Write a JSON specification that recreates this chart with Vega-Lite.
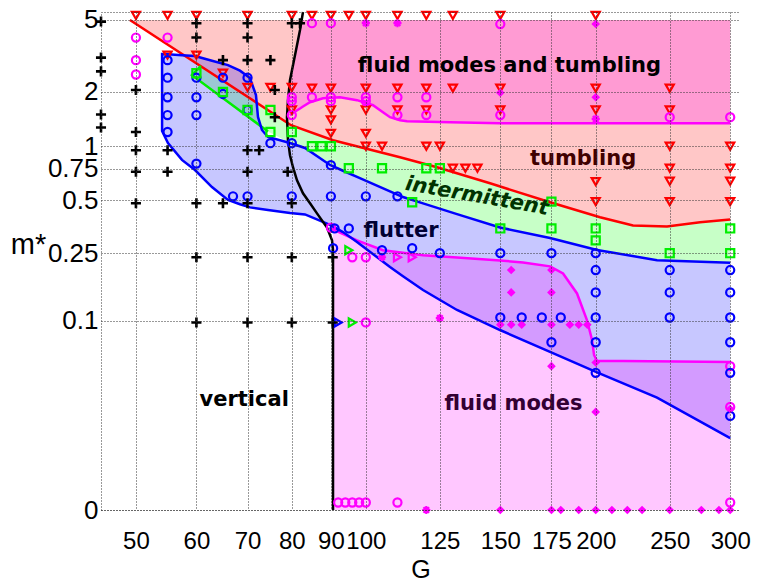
{
"$schema":"https://vega.github.io/schema/vega-lite/v6.json",
"width":639,"height":498,"autosize":"none",
"padding":{"left":101,"top":12,"right":17,"bottom":72},
"background":"white",
"config":{"view":{"stroke":null}},
"datasets":{
"regions":[
{"region":"tumbling","G":49.1,"m":5,"m2":5},{"region":"tumbling","G":79.8,"m":5,"m2":1.309},{"region":"tumbling","G":90.58,"m":5,"m2":1.08},{"region":"tumbling","G":110.86,"m":5,"m2":0.869},{"region":"tumbling","G":123.94,"m":5,"m2":0.764},{"region":"tumbling","G":145.42,"m":5,"m2":0.621},{"region":"tumbling","G":174.26,"m":5,"m2":0.486},{"region":"tumbling","G":202.62,"m":5,"m2":0.4},{"region":"tumbling","G":223.82,"m":5,"m2":0.36},{"region":"tumbling","G":247.99,"m":5,"m2":0.355},{"region":"tumbling","G":273.95,"m":5,"m2":0.375},{"region":"tumbling","G":300,"m":5,"m2":0.389},
{"region":"fluidTumbling","G":78.84,"m":1.45,"m2":1.45},{"region":"fluidTumbling","G":79.08,"m":1.802,"m2":1.468},{"region":"fluidTumbling","G":79.56,"m":2.323,"m2":1.487},{"region":"fluidTumbling","G":81.01,"m":3.406,"m2":1.569},{"region":"fluidTumbling","G":82.0,"m":4.404,"m2":1.62},{"region":"fluidTumbling","G":82.74,"m":5,"m2":1.661},{"region":"fluidTumbling","G":84.51,"m":5,"m2":1.756},{"region":"fluidTumbling","G":87.89,"m":5,"m2":1.848},{"region":"fluidTumbling","G":92.51,"m":5,"m2":1.872},{"region":"fluidTumbling","G":97.38,"m":5,"m2":1.802},{"region":"fluidTumbling","G":102.19,"m":5,"m2":1.689},{"region":"fluidTumbling","G":105.3,"m":5,"m2":1.545},{"region":"fluidTumbling","G":107.56,"m":5,"m2":1.45},{"region":"fluidTumbling","G":110.86,"m":5,"m2":1.395},{"region":"fluidTumbling","G":113.22,"m":5,"m2":1.377},{"region":"fluidTumbling","G":128.9,"m":5,"m2":1.36},{"region":"fluidTumbling","G":149.87,"m":5,"m2":1.343},{"region":"fluidTumbling","G":300,"m":5,"m2":1.343},
{"region":"intermittent","G":59.2,"m":2.478,"m2":2.478},{"region":"intermittent","G":61.01,"m":2.742,"m2":2.255},{"region":"intermittent","G":66.39,"m":2.181,"m2":1.705},{"region":"intermittent","G":74.45,"m":1.586,"m2":1.207},{"region":"intermittent","G":79.56,"m":1.309,"m2":1.042},{"region":"intermittent","G":83.24,"m":1.227,"m2":0.978},{"region":"intermittent","G":89.76,"m":1.096,"m2":0.786},{"region":"intermittent","G":97.38,"m":1.002,"m2":0.675},{"region":"intermittent","G":110.86,"m":0.869,"m2":0.529},{"region":"intermittent","G":123.94,"m":0.764,"m2":0.452},{"region":"intermittent","G":145.42,"m":0.621,"m2":0.363},{"region":"intermittent","G":174.26,"m":0.486,"m2":0.305},{"region":"intermittent","G":200.8,"m":0.407,"m2":0.261},{"region":"intermittent","G":223.82,"m":0.36,"m2":0.241},{"region":"intermittent","G":247.99,"m":0.355,"m2":0.227},{"region":"intermittent","G":273.95,"m":0.375,"m2":0.223},{"region":"intermittent","G":300,"m":0.389,"m2":0.22},
{"region":"flutter","G":54.1,"m":3.245,"m2":1.216},{"region":"flutter","G":55.07,"m":3.233,"m2":1.042},{"region":"flutter","G":57.44,"m":3.196,"m2":0.839},{"region":"flutter","G":59.74,"m":3.163,"m2":0.737},{"region":"flutter","G":62.88,"m":2.98,"m2":0.592},{"region":"flutter","G":65.99,"m":2.817,"m2":0.501},{"region":"flutter","G":68.42,"m":2.623,"m2":0.474},{"region":"flutter","G":70.51,"m":2.39,"m2":0.455},{"region":"flutter","G":71.8,"m":1.924,"m2":0.451},{"region":"flutter","G":72.24,"m":1.454,"m2":0.449},{"region":"flutter","G":73.11,"m":1.231,"m2":0.445},{"region":"flutter","G":74.45,"m":1.126,"m2":0.44},{"region":"flutter","G":79.56,"m":1.042,"m2":0.423},{"region":"flutter","G":83.24,"m":0.978,"m2":0.415},{"region":"flutter","G":89.76,"m":0.786,"m2":0.362},{"region":"flutter","G":93.35,"m":0.73,"m2":0.33},{"region":"flutter","G":97.38,"m":0.675,"m2":0.29},{"region":"flutter","G":107.56,"m":0.56,"m2":0.208},{"region":"flutter","G":111.86,"m":0.52,"m2":0.184},{"region":"flutter","G":118.82,"m":0.479,"m2":0.153},{"region":"flutter","G":131.64,"m":0.417,"m2":0.1165},{"region":"flutter","G":149.87,"m":0.35,"m2":0.0881},{"region":"flutter","G":174.26,"m":0.305,"m2":0.0643},{"region":"flutter","G":200.8,"m":0.261,"m2":0.0473},{"region":"flutter","G":240.62,"m":0.228,"m2":0.0316},{"region":"flutter","G":300,"m":0.22,"m2":0.0149},
{"region":"fluid","G":90.58,"m":0.346,"m2":0},{"region":"fluid","G":92.51,"m":0.328,"m2":0},{"region":"fluid","G":97.38,"m":0.296,"m2":0},{"region":"fluid","G":105.3,"m":0.26,"m2":0},{"region":"fluid","G":118.82,"m":0.243,"m2":0},{"region":"fluid","G":131.64,"m":0.2365,"m2":0},{"region":"fluid","G":149.87,"m":0.227,"m2":0},{"region":"fluid","G":160.63,"m":0.221,"m2":0},{"region":"fluid","G":174.26,"m":0.21,"m2":0},{"region":"fluid","G":181.23,"m":0.191,"m2":0},{"region":"fluid","G":189.04,"m":0.146,"m2":0},{"region":"fluid","G":194.83,"m":0.101,"m2":0},{"region":"fluid","G":197.79,"m":0.0765,"m2":0},{"region":"fluid","G":199.0,"m":0.0615,"m2":0},{"region":"fluid","G":200.8,"m":0.0562,"m2":0},{"region":"fluid","G":217.17,"m":0.0562,"m2":0},{"region":"fluid","G":300,"m":0.0554,"m2":0}
],
"curves":[
{"curve":"tumbling","o":1,"G":49.1,"m":5},{"curve":"tumbling","o":2,"G":79.8,"m":1.309},{"curve":"tumbling","o":3,"G":90.58,"m":1.08},{"curve":"tumbling","o":4,"G":110.86,"m":0.869},{"curve":"tumbling","o":5,"G":123.94,"m":0.764},{"curve":"tumbling","o":6,"G":145.42,"m":0.621},{"curve":"tumbling","o":7,"G":174.26,"m":0.486},{"curve":"tumbling","o":8,"G":202.62,"m":0.4},{"curve":"tumbling","o":9,"G":223.82,"m":0.36},{"curve":"tumbling","o":10,"G":247.99,"m":0.355},{"curve":"tumbling","o":11,"G":273.95,"m":0.375},{"curve":"tumbling","o":12,"G":300,"m":0.389},
{"curve":"fluidUpper","o":1,"G":79.56,"m":1.487},{"curve":"fluidUpper","o":2,"G":81.01,"m":1.569},{"curve":"fluidUpper","o":3,"G":82.0,"m":1.62},{"curve":"fluidUpper","o":4,"G":82.74,"m":1.661},{"curve":"fluidUpper","o":5,"G":84.51,"m":1.756},{"curve":"fluidUpper","o":6,"G":87.89,"m":1.848},{"curve":"fluidUpper","o":7,"G":92.51,"m":1.872},{"curve":"fluidUpper","o":8,"G":97.38,"m":1.802},{"curve":"fluidUpper","o":9,"G":102.19,"m":1.689},{"curve":"fluidUpper","o":10,"G":105.3,"m":1.545},{"curve":"fluidUpper","o":11,"G":107.56,"m":1.45},{"curve":"fluidUpper","o":12,"G":110.86,"m":1.395},{"curve":"fluidUpper","o":13,"G":113.22,"m":1.377},{"curve":"fluidUpper","o":14,"G":128.9,"m":1.36},{"curve":"fluidUpper","o":15,"G":149.87,"m":1.343},{"curve":"fluidUpper","o":16,"G":300,"m":1.343},
{"curve":"fluidLower","o":1,"G":89.76,"m":0.35},{"curve":"fluidLower","o":2,"G":92.51,"m":0.328},{"curve":"fluidLower","o":3,"G":97.38,"m":0.296},{"curve":"fluidLower","o":4,"G":105.3,"m":0.26},{"curve":"fluidLower","o":5,"G":118.82,"m":0.243},{"curve":"fluidLower","o":6,"G":131.64,"m":0.2365},{"curve":"fluidLower","o":7,"G":149.87,"m":0.227},{"curve":"fluidLower","o":8,"G":160.63,"m":0.221},{"curve":"fluidLower","o":9,"G":174.26,"m":0.21},{"curve":"fluidLower","o":10,"G":181.23,"m":0.191},{"curve":"fluidLower","o":11,"G":189.04,"m":0.146},{"curve":"fluidLower","o":12,"G":194.83,"m":0.101},{"curve":"fluidLower","o":13,"G":197.79,"m":0.0765},{"curve":"fluidLower","o":14,"G":199.0,"m":0.0615},{"curve":"fluidLower","o":15,"G":200.8,"m":0.0562},{"curve":"fluidLower","o":16,"G":217.17,"m":0.0562},{"curve":"fluidLower","o":17,"G":300,"m":0.0554},
{"curve":"intermittent","o":1,"G":60.82,"m":2.785},{"curve":"intermittent","o":2,"G":59.2,"m":2.478},{"curve":"intermittent","o":3,"G":74.45,"m":1.207},
{"curve":"flutter","o":1,"G":300,"m":0.0149},{"curve":"flutter","o":2,"G":240.62,"m":0.0316},{"curve":"flutter","o":3,"G":200.8,"m":0.0473},{"curve":"flutter","o":4,"G":174.26,"m":0.0643},{"curve":"flutter","o":5,"G":149.87,"m":0.0881},{"curve":"flutter","o":6,"G":131.64,"m":0.1165},{"curve":"flutter","o":7,"G":118.82,"m":0.153},{"curve":"flutter","o":8,"G":111.86,"m":0.184},{"curve":"flutter","o":9,"G":107.56,"m":0.208},{"curve":"flutter","o":10,"G":97.38,"m":0.29},{"curve":"flutter","o":11,"G":93.35,"m":0.33},{"curve":"flutter","o":12,"G":89.76,"m":0.362},{"curve":"flutter","o":13,"G":83.24,"m":0.415},{"curve":"flutter","o":14,"G":79.56,"m":0.423},{"curve":"flutter","o":15,"G":74.45,"m":0.44},{"curve":"flutter","o":16,"G":70.51,"m":0.455},{"curve":"flutter","o":17,"G":68.42,"m":0.474},{"curve":"flutter","o":18,"G":65.99,"m":0.501},{"curve":"flutter","o":19,"G":62.88,"m":0.592},{"curve":"flutter","o":20,"G":59.74,"m":0.737},{"curve":"flutter","o":21,"G":57.44,"m":0.839},{"curve":"flutter","o":22,"G":55.07,"m":1.042},{"curve":"flutter","o":23,"G":54.1,"m":1.216},{"curve":"flutter","o":24,"G":54.1,"m":3.245},{"curve":"flutter","o":25,"G":55.07,"m":3.233},{"curve":"flutter","o":26,"G":57.44,"m":3.196},{"curve":"flutter","o":27,"G":59.74,"m":3.163},{"curve":"flutter","o":28,"G":62.88,"m":2.98},{"curve":"flutter","o":29,"G":65.99,"m":2.817},{"curve":"flutter","o":30,"G":68.42,"m":2.623},{"curve":"flutter","o":31,"G":70.51,"m":2.39},{"curve":"flutter","o":32,"G":71.8,"m":1.924},{"curve":"flutter","o":33,"G":72.24,"m":1.454},{"curve":"flutter","o":34,"G":73.11,"m":1.231},{"curve":"flutter","o":35,"G":74.45,"m":1.126},{"curve":"flutter","o":36,"G":79.56,"m":1.042},{"curve":"flutter","o":37,"G":83.24,"m":0.978},{"curve":"flutter","o":38,"G":89.76,"m":0.786},{"curve":"flutter","o":39,"G":93.35,"m":0.73},{"curve":"flutter","o":40,"G":97.38,"m":0.675},{"curve":"flutter","o":41,"G":107.56,"m":0.56},{"curve":"flutter","o":42,"G":111.86,"m":0.52},{"curve":"flutter","o":43,"G":118.82,"m":0.479},{"curve":"flutter","o":44,"G":131.64,"m":0.417},{"curve":"flutter","o":45,"G":149.87,"m":0.35},{"curve":"flutter","o":46,"G":174.26,"m":0.305},{"curve":"flutter","o":47,"G":200.8,"m":0.261},{"curve":"flutter","o":48,"G":240.62,"m":0.228},{"curve":"flutter","o":49,"G":300,"m":0.22},
{"curve":"vertical","o":1,"G":82.74,"m":5.535},{"curve":"vertical","o":2,"G":82.0,"m":4.404},{"curve":"vertical","o":3,"G":81.01,"m":3.406},{"curve":"vertical","o":4,"G":79.56,"m":2.323},{"curve":"vertical","o":5,"G":79.08,"m":1.802},{"curve":"vertical","o":6,"G":78.84,"m":1.45},{"curve":"vertical","o":7,"G":79.08,"m":1.08},{"curve":"vertical","o":8,"G":79.56,"m":0.891},{"curve":"vertical","o":9,"G":80.28,"m":0.764},{"curve":"vertical","o":10,"G":81.26,"m":0.646},{"curve":"vertical","o":11,"G":82.74,"m":0.546},{"curve":"vertical","o":12,"G":84.51,"m":0.48},{"curve":"vertical","o":13,"G":86.31,"m":0.421},{"curve":"vertical","o":14,"G":88.95,"m":0.35},{"curve":"vertical","o":15,"G":90.31,"m":0.296},{"curve":"vertical","o":16,"G":90.58,"m":0.26},{"curve":"vertical","o":17,"G":90.58,"m":0}
],
"points":[
{"kind":"cross","G":45,"m":4.9},{"kind":"cross","G":60,"m":4.8},{"kind":"cross","G":70,"m":4.8},{"kind":"cross","G":80,"m":4.8},{"kind":"cross","G":82,"m":4.8},
{"kind":"cross","G":60,"m":4.0},{"kind":"cross","G":70,"m":4.0},
{"kind":"cross","G":45,"m":3.1},{"kind":"cross","G":65,"m":3.0},{"kind":"cross","G":70,"m":3.0},{"kind":"cross","G":75,"m":3.0},
{"kind":"cross","G":45,"m":2.6},{"kind":"cross","G":50,"m":2.05},{"kind":"cross","G":76,"m":2.05},
{"kind":"cross","G":45,"m":1.5},{"kind":"cross","G":76,"m":1.45},
{"kind":"cross","G":45,"m":1.27},{"kind":"cross","G":50,"m":1.2},
{"kind":"cross","G":50,"m":0.95},{"kind":"cross","G":55,"m":0.95},{"kind":"cross","G":70,"m":0.95},{"kind":"cross","G":72.5,"m":0.95},
{"kind":"cross","G":50,"m":0.72},{"kind":"cross","G":55,"m":0.72},{"kind":"cross","G":70,"m":0.72},{"kind":"cross","G":79,"m":0.72},
{"kind":"cross","G":50,"m":0.48},{"kind":"cross","G":60,"m":0.48},{"kind":"cross","G":65,"m":0.48},{"kind":"cross","G":70,"m":0.48},{"kind":"cross","G":80,"m":0.48},
{"kind":"cross","G":60,"m":0.237},{"kind":"cross","G":70,"m":0.237},{"kind":"cross","G":80,"m":0.237},{"kind":"cross","G":90.5,"m":0.237},
{"kind":"cross","G":60,"m":0.098},{"kind":"cross","G":70,"m":0.098},{"kind":"cross","G":80,"m":0.098},{"kind":"cross","G":90.5,"m":0.098},
{"kind":"tri","G":50,"m":5.3},{"kind":"tri","G":55,"m":5.3},{"kind":"tri","G":60,"m":5.3},{"kind":"tri","G":70,"m":5.3},{"kind":"tri","G":80,"m":5.3},{"kind":"tri","G":85,"m":5.3},{"kind":"tri","G":90,"m":5.3},{"kind":"tri","G":95,"m":5.3},{"kind":"tri","G":100,"m":5.3},{"kind":"tri","G":110,"m":5.3},{"kind":"tri","G":120,"m":5.3},{"kind":"tri","G":130,"m":5.3},{"kind":"tri","G":150,"m":5.3},{"kind":"tri","G":200,"m":5.3},
{"kind":"tri","G":55,"m":3.2},{"kind":"tri","G":60,"m":3.2},{"kind":"tri","G":65,"m":2.54},{"kind":"tri","G":70,"m":2.12},{"kind":"tri","G":75,"m":2.12},{"kind":"tri","G":80,"m":2.12},
{"kind":"tri","G":85,"m":2.1},{"kind":"tri","G":90,"m":2.1},{"kind":"tri","G":100,"m":2.1},{"kind":"tri","G":110,"m":2.1},{"kind":"tri","G":120,"m":2.1},{"kind":"tri","G":130,"m":2.1},{"kind":"tri","G":150,"m":2.1},{"kind":"tri","G":200,"m":2.1},{"kind":"tri","G":250,"m":2.1},
{"kind":"tri","G":80,"m":1.59},{"kind":"tri","G":90,"m":1.59},{"kind":"tri","G":100,"m":1.59},{"kind":"tri","G":110,"m":1.59},{"kind":"tri","G":120,"m":1.59},{"kind":"tri","G":150,"m":1.59},{"kind":"tri","G":200,"m":1.59},{"kind":"tri","G":250,"m":1.59},
{"kind":"tri","G":90,"m":1.4},{"kind":"tri","G":90,"m":1.18},{"kind":"tri","G":100,"m":1.18},
{"kind":"tri","G":100,"m":1.0},{"kind":"tri","G":105,"m":1.0},{"kind":"tri","G":120,"m":1.0},{"kind":"tri","G":125,"m":1.0},{"kind":"tri","G":250,"m":1.0},{"kind":"tri","G":300,"m":1.0},
{"kind":"tri","G":130,"m":0.754},{"kind":"tri","G":135,"m":0.754},{"kind":"tri","G":140,"m":0.754},{"kind":"tri","G":250,"m":0.754},{"kind":"tri","G":300,"m":0.754},
{"kind":"tri","G":200,"m":0.635},{"kind":"tri","G":250,"m":0.638},{"kind":"tri","G":300,"m":0.638},
{"kind":"tri","G":200,"m":0.49},{"kind":"tri","G":250,"m":0.49},{"kind":"tri","G":300,"m":0.49},
{"kind":"circM","G":50,"m":4.0},{"kind":"circM","G":55,"m":4.0},{"kind":"circM","G":50,"m":3.0},{"kind":"circM","G":50,"m":2.5},{"kind":"circM","G":85,"m":4.8},{"kind":"circM","G":90,"m":4.8},{"kind":"circM","G":150,"m":4.75},
{"kind":"circM","G":80,"m":1.87},{"kind":"circM","G":85,"m":1.87},{"kind":"circM","G":90,"m":1.87},{"kind":"circM","G":100,"m":1.87},{"kind":"circM","G":110,"m":1.87},{"kind":"circM","G":120,"m":1.87},
{"kind":"circM","G":80,"m":1.78},{"kind":"circM","G":90,"m":1.78},{"kind":"circM","G":100,"m":1.78},
{"kind":"circM","G":80,"m":1.49},{"kind":"circM","G":110,"m":1.49},{"kind":"circM","G":120,"m":1.49},{"kind":"circM","G":150,"m":1.49},{"kind":"circM","G":250,"m":1.45},{"kind":"circM","G":300,"m":1.45},
{"kind":"circM","G":90,"m":0.35},{"kind":"circM","G":96,"m":0.237},{"kind":"circM","G":100,"m":0.237},{"kind":"circM","G":100,"m":0.098},{"kind":"circM","G":300,"m":0.052},{"kind":"circM","G":300,"m":0.027},
{"kind":"circM","G":92,"m":0.001},{"kind":"circM","G":94,"m":0.001},{"kind":"circM","G":96,"m":0.001},{"kind":"circM","G":98,"m":0.001},{"kind":"circM","G":100,"m":0.001},{"kind":"circM","G":110,"m":0.001},{"kind":"circM","G":300,"m":0.001},
{"kind":"ast","G":100,"m":4.8},{"kind":"ast","G":110,"m":4.8},{"kind":"ast","G":200,"m":1.42},{"kind":"ast","G":105,"m":0.237},{"kind":"ast","G":125,"m":0.104},{"kind":"ast","G":120,"m":0},
{"kind":"rtriM","G":110,"m":0.237},{"kind":"rtriM","G":115,"m":0.237},
{"kind":"rtriG","G":95,"m":0.26},{"kind":"rtriG","G":96,"m":0.098},
{"kind":"rtriB","G":92,"m":0.098},
{"kind":"circB","G":55,"m":3.0},{"kind":"circB","G":55,"m":2.4},{"kind":"circB","G":60,"m":2.4},{"kind":"circB","G":65,"m":2.4},{"kind":"circB","G":70,"m":2.4},{"kind":"circB","G":55,"m":1.87},{"kind":"circB","G":60,"m":1.87},{"kind":"circB","G":65,"m":1.95},{"kind":"circB","G":55,"m":1.49},{"kind":"circB","G":60,"m":1.49},{"kind":"circB","G":70,"m":1.59},{"kind":"circB","G":55,"m":1.2},{"kind":"circB","G":75,"m":1.04},{"kind":"circB","G":80,"m":1.04},{"kind":"circB","G":60,"m":0.8},{"kind":"circB","G":67,"m":0.525},{"kind":"circB","G":70,"m":0.525},{"kind":"circB","G":80,"m":0.525},{"kind":"circB","G":90,"m":0.784},{"kind":"circB","G":90,"m":0.525},{"kind":"circB","G":100,"m":0.525},{"kind":"circB","G":110,"m":0.525},{"kind":"circB","G":91,"m":0.346},{"kind":"circB","G":95,"m":0.346},{"kind":"circB","G":90.6,"m":0.267},{"kind":"circB","G":105,"m":0.26},{"kind":"circB","G":115,"m":0.267},{"kind":"circB","G":125,"m":0.25},{"kind":"circB","G":150,"m":0.25},{"kind":"circB","G":175,"m":0.25},{"kind":"circB","G":200,"m":0.25},{"kind":"circB","G":200,"m":0.2},{"kind":"circB","G":250,"m":0.2},{"kind":"circB","G":300,"m":0.2},{"kind":"circB","G":200,"m":0.148},{"kind":"circB","G":250,"m":0.148},{"kind":"circB","G":300,"m":0.148},{"kind":"circB","G":150,"m":0.105},{"kind":"circB","G":160,"m":0.105},{"kind":"circB","G":170,"m":0.105},{"kind":"circB","G":180,"m":0.105},{"kind":"circB","G":200,"m":0.105},{"kind":"circB","G":250,"m":0.105},{"kind":"circB","G":300,"m":0.105},{"kind":"circB","G":175,"m":0.074},{"kind":"circB","G":200,"m":0.074},{"kind":"circB","G":300,"m":0.074},{"kind":"circB","G":200,"m":0.047},{"kind":"circB","G":300,"m":0.047},{"kind":"circB","G":300,"m":0.023},
{"kind":"sq","G":60,"m":2.54},{"kind":"sq","G":65,"m":2.0},{"kind":"sq","G":70,"m":1.59},{"kind":"sq","G":75,"m":1.59},{"kind":"sq","G":75,"m":1.2},{"kind":"sq","G":80,"m":1.2},{"kind":"sq","G":85,"m":1.0},{"kind":"sq","G":87.5,"m":1.0},{"kind":"sq","G":90,"m":1.0},{"kind":"sq","G":95,"m":0.754},{"kind":"sq","G":105,"m":0.754},{"kind":"sq","G":120,"m":0.754},{"kind":"sq","G":125,"m":0.754},{"kind":"sq","G":115,"m":0.486},{"kind":"sq","G":150,"m":0.346},{"kind":"sq","G":175,"m":0.49},{"kind":"sq","G":175,"m":0.346},{"kind":"sq","G":200,"m":0.346},{"kind":"sq","G":200,"m":0.296},{"kind":"sq","G":300,"m":0.346},{"kind":"sq","G":250,"m":0.25},{"kind":"sq","G":300,"m":0.25},
{"kind":"dia","G":200,"m":4.75},{"kind":"dia","G":150,"m":1.98},{"kind":"dia","G":200,"m":1.87},{"kind":"dia","G":155,"m":0.2},{"kind":"dia","G":175,"m":0.2},{"kind":"dia","G":155,"m":0.148},{"kind":"dia","G":175,"m":0.148},
{"kind":"dia","G":150,"m":0.095},{"kind":"dia","G":155,"m":0.095},{"kind":"dia","G":160,"m":0.095},{"kind":"dia","G":175,"m":0.095},{"kind":"dia","G":185,"m":0.095},{"kind":"dia","G":190,"m":0.095},{"kind":"dia","G":195,"m":0.095},
{"kind":"dia","G":175,"m":0.052},{"kind":"dia","G":200,"m":0.055},{"kind":"dia","G":200,"m":0.0247},{"kind":"dia","G":300,"m":0.026},
{"kind":"dia","G":150,"m":0},{"kind":"dia","G":175,"m":0},{"kind":"dia","G":180,"m":0},{"kind":"dia","G":190,"m":0},{"kind":"dia","G":200,"m":0},{"kind":"dia","G":210,"m":0},{"kind":"dia","G":220,"m":0},{"kind":"dia","G":230,"m":0},{"kind":"dia","G":250,"m":0},{"kind":"dia","G":275,"m":0},{"kind":"dia","G":290,"m":0},{"kind":"dia","G":300,"m":0}
],
"labels":[
{"label":"fluid modes and tumbling","G":154.2,"m":2.58},
{"label":"tumbling","G":192.5,"m":0.786},
{"label":"flutter","G":111.2,"m":0.309},
{"label":"vertical","G":69.3,"m":0.0274},
{"label":"fluid modes","G":156.1,"m":0.0256},
{"label":"intermittent","G":139.4,"m":0.486}
]
},
"encoding":{
"x":{"field":"G","type":"quantitative","title":"G",
 "scale":{"type":"log","domain":[45,309],"nice":false},
 "axis":{"values":[50,60,70,80,90,100,125,150,175,200,250,300],"labelExpr":"'' + datum.value","grid":true,"gridColor":"#333","gridDash":[1,2],"gridWidth":1,"ticks":false,"tickSize":0,"domainColor":"#333","domainDash":[1,2],"domainWidth":1,"labelFont":"Liberation Sans","labelFontSize":24,"labelColor":"#000","labelPadding":19,"labelOverlap":false,"labelFlush":false,"titleFont":"Liberation Sans","titleFontSize":25,"titleFontWeight":"normal","titleColor":"#000","titleBaseline":"alphabetic","titleY":67,"zindex":1}},
"y":{"field":"m","type":"quantitative","title":"m*",
 "scale":{"type":"symlog","constant":0.01,"domain":[0,5.535],"nice":false,"zero":false},
 "axis":{"values":[0,0.1,0.25,0.5,0.75,1,2,5,5.535],"labelExpr":"datum.value > 5.2 ? '' : '' + datum.value","grid":true,"gridColor":"#333","gridDash":[1,2],"gridWidth":1,"ticks":false,"tickSize":0,"domainColor":"#333","domainDash":[1,2],"domainWidth":1,"labelFont":"Liberation Sans","labelFontSize":26,"labelColor":"#000","labelPadding":3,"labelOverlap":false,"labelFlush":false,"titleFont":"Liberation Sans","titleFontSize":29,"titleFontWeight":"normal","titleColor":"#000","titleAngle":0,"titleAlign":"center","titleBaseline":"alphabetic","titleX":-73,"titleY":241,"zindex":1}}
},
"layer":[
{"data":{"name":"regions"},"mark":{"type":"area","fillOpacity":0.22,"strokeWidth":0},
 "encoding":{"y2":{"field":"m2"},"color":{"field":"region","type":"nominal","legend":null,"scale":{"domain":["tumbling","fluidTumbling","intermittent","flutter","fluid"],"range":["#ff0000","#ff00ff","#00ff00","#0000ff","#ff00ff"]}}}},
{"data":{"name":"curves"},"mark":{"type":"line","strokeWidth":2.5},
 "encoding":{"order":{"field":"o","type":"quantitative"},"color":{"field":"curve","type":"nominal","legend":null,"scale":{"domain":["tumbling","fluidUpper","fluidLower","intermittent","flutter","vertical"],"range":["#ff0000","#ff00ff","#ff00ff","#00ee00","#0000ff","#000000"]}}}},
{"data":{"name":"points"},"transform":[{"filter":"datum.kind != 'dia' && datum.kind != 'cross'"}],"mark":{"type":"point","filled":false,"strokeWidth":2.2,"size":66,"opacity":1},
 "encoding":{"shape":{"field":"kind","type":"nominal","legend":null,"scale":{"domain":["tri","circM","circB","sq","ast","rtriM","rtriG","rtriB"],"range":["triangle-down","circle","circle","square","M-1,0H1M0,-1V1M-0.7,-0.7L0.7,0.7M-0.7,0.7L0.7,-0.7","triangle-right","triangle-right","triangle-right"]}},
  "color":{"field":"kind","type":"nominal","legend":null,"scale":{"domain":["tri","circM","circB","sq","ast","rtriM","rtriG","rtriB"],"range":["#ff0000","#ff00ff","#0000ff","#00ee00","#ff00ff","#ff00ff","#00ee00","#0000ff"]}}}},
{"data":{"name":"points"},"transform":[{"filter":"datum.kind == 'cross'"}],"mark":{"type":"point","shape":"M-1.3,0H1.3M0,-1.3V1.3","filled":false,"strokeWidth":2.6,"size":60,"color":"#000000","opacity":1}},
{"data":{"name":"points"},"transform":[{"filter":"datum.kind == 'dia'"}],"mark":{"type":"point","shape":"diamond","filled":true,"size":75,"color":"#ff00ff","opacity":1}},
{"data":{"name":"labels"},"transform":[{"filter":"datum.label != 'intermittent'"}],"mark":{"type":"text","font":"DejaVu Sans","fontSize":21,"fontWeight":"bold","align":"center","baseline":"alphabetic"},
 "encoding":{"text":{"field":"label"},"color":{"field":"label","type":"nominal","legend":null,"scale":{"domain":["fluid modes and tumbling","tumbling","flutter","vertical","fluid modes"],"range":["#000000","#400000","#000033","#000000","#330033"]}}}},
{"data":{"name":"labels"},"transform":[{"filter":"datum.label == 'intermittent'"}],"mark":{"type":"text","font":"DejaVu Sans","fontSize":21,"fontWeight":"bold","fontStyle":"italic","align":"center","baseline":"alphabetic","angle":10,"color":"#003300"},
 "encoding":{"text":{"field":"label"}}}
],
"resolve":{"scale":{"color":"independent","shape":"independent"}}
}
